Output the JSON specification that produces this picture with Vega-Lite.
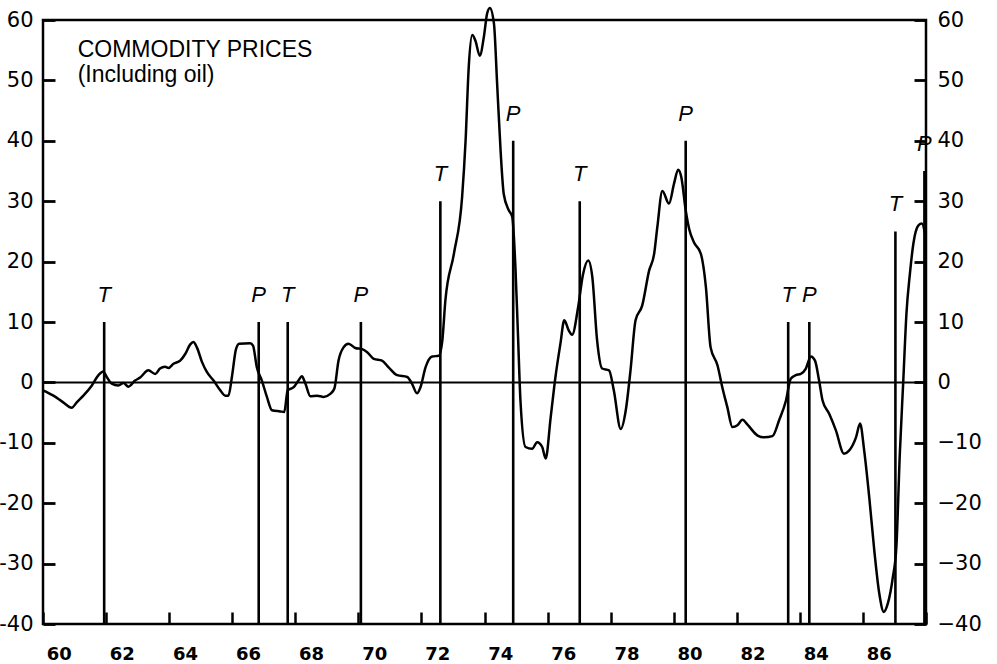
{
  "$schema": "https://vega.github.io/schema/vega-lite/v6.json",
  "autosize": "none",
  "width": 883,
  "height": 604,
  "padding": {"left": 43, "top": 20, "right": 71, "bottom": 40},
  "background": "white",
  "config": {
    "view": {"stroke": "black", "strokeWidth": 2.5},
    "axis": {"domain": false, "grid": false}
  },
  "datasets": {
    "curve": [
      {"x": 60.0, "y": -1.3}, {"x": 60.33, "y": -2.2}, {"x": 60.64, "y": -3.3}, {"x": 60.91, "y": -4.2},
      {"x": 61.07, "y": -3.3}, {"x": 61.28, "y": -2.2}, {"x": 61.55, "y": -0.5}, {"x": 61.76, "y": 1.2},
      {"x": 61.91, "y": 1.8}, {"x": 62.02, "y": 0.9}, {"x": 62.18, "y": -0.2}, {"x": 62.39, "y": -0.5},
      {"x": 62.55, "y": -0.1}, {"x": 62.71, "y": -0.7}, {"x": 62.92, "y": 0.3}, {"x": 63.08, "y": 0.8},
      {"x": 63.34, "y": 2.0}, {"x": 63.56, "y": 1.4}, {"x": 63.71, "y": 2.3}, {"x": 63.87, "y": 2.6},
      {"x": 63.98, "y": 2.4}, {"x": 64.14, "y": 3.1}, {"x": 64.35, "y": 3.6}, {"x": 64.51, "y": 4.7},
      {"x": 64.67, "y": 6.3}, {"x": 64.77, "y": 6.7}, {"x": 64.88, "y": 5.8}, {"x": 65.04, "y": 3.4},
      {"x": 65.2, "y": 1.7}, {"x": 65.41, "y": 0.3}, {"x": 65.62, "y": -1.3}, {"x": 65.78, "y": -2.2},
      {"x": 65.88, "y": -2.2}, {"x": 65.99, "y": 0.9}, {"x": 66.12, "y": 5.5}, {"x": 66.22, "y": 6.4},
      {"x": 66.57, "y": 6.5}, {"x": 66.66, "y": 6.1}, {"x": 66.78, "y": 2.5}, {"x": 66.94, "y": 0.3},
      {"x": 67.1, "y": -2.4}, {"x": 67.26, "y": -4.6}, {"x": 67.52, "y": -4.8}, {"x": 67.65, "y": -4.9},
      {"x": 67.76, "y": -1.3}, {"x": 67.95, "y": -0.8}, {"x": 68.1, "y": 0.3}, {"x": 68.21, "y": 1.0},
      {"x": 68.32, "y": -0.2}, {"x": 68.48, "y": -2.3}, {"x": 68.69, "y": -2.2}, {"x": 68.9, "y": -2.4},
      {"x": 69.11, "y": -1.9}, {"x": 69.24, "y": -1.0}, {"x": 69.37, "y": 3.6}, {"x": 69.53, "y": 5.8},
      {"x": 69.69, "y": 6.4}, {"x": 69.9, "y": 5.7}, {"x": 70.12, "y": 5.5}, {"x": 70.28, "y": 5.0},
      {"x": 70.49, "y": 3.9}, {"x": 70.75, "y": 3.6}, {"x": 70.96, "y": 2.5}, {"x": 71.23, "y": 1.2},
      {"x": 71.55, "y": 0.9}, {"x": 71.7, "y": -0.2}, {"x": 71.86, "y": -1.8}, {"x": 71.97, "y": -0.8},
      {"x": 72.13, "y": 2.5}, {"x": 72.34, "y": 4.3}, {"x": 72.55, "y": 4.4}, {"x": 72.66, "y": 6.8},
      {"x": 72.76, "y": 13.6}, {"x": 73.03, "y": 21.3}, {"x": 73.29, "y": 30.7}, {"x": 73.4, "y": 40.0},
      {"x": 73.5, "y": 52.2}, {"x": 73.61, "y": 57.5}, {"x": 73.71, "y": 56.6}, {"x": 73.85, "y": 54.1},
      {"x": 73.98, "y": 57.2}, {"x": 74.08, "y": 61.0}, {"x": 74.17, "y": 62.0}, {"x": 74.3, "y": 59.4},
      {"x": 74.4, "y": 49.5}, {"x": 74.51, "y": 38.4}, {"x": 74.61, "y": 31.2}, {"x": 74.77, "y": 28.5},
      {"x": 74.88, "y": 27.4}, {"x": 74.98, "y": 19.1}, {"x": 75.06, "y": 8.1}, {"x": 75.14, "y": -3.0},
      {"x": 75.3, "y": -10.7}, {"x": 75.51, "y": -11.0}, {"x": 75.67, "y": -9.9}, {"x": 75.83, "y": -10.7},
      {"x": 75.94, "y": -12.6}, {"x": 76.1, "y": -5.7}, {"x": 76.25, "y": 0.9}, {"x": 76.41, "y": 6.5},
      {"x": 76.53, "y": 10.3}, {"x": 76.67, "y": 8.6}, {"x": 76.78, "y": 7.9}, {"x": 76.97, "y": 12.5},
      {"x": 77.12, "y": 17.8}, {"x": 77.29, "y": 20.2}, {"x": 77.42, "y": 17.4}, {"x": 77.57, "y": 7.0},
      {"x": 77.73, "y": 2.3}, {"x": 77.95, "y": 2.0}, {"x": 78.1, "y": -1.3}, {"x": 78.32, "y": -7.7},
      {"x": 78.48, "y": -4.6}, {"x": 78.63, "y": 2.0}, {"x": 78.79, "y": 10.3}, {"x": 79.0, "y": 12.7},
      {"x": 79.22, "y": 18.5}, {"x": 79.38, "y": 21.3}, {"x": 79.48, "y": 25.7}, {"x": 79.64, "y": 31.7},
      {"x": 79.85, "y": 29.6}, {"x": 80.01, "y": 32.9}, {"x": 80.14, "y": 35.2}, {"x": 80.24, "y": 34.0},
      {"x": 80.38, "y": 28.5}, {"x": 80.49, "y": 25.4}, {"x": 80.64, "y": 23.2}, {"x": 80.86, "y": 21.3},
      {"x": 81.02, "y": 15.8}, {"x": 81.17, "y": 5.8}, {"x": 81.39, "y": 2.8}, {"x": 81.54, "y": -0.8},
      {"x": 81.7, "y": -4.1}, {"x": 81.86, "y": -7.4}, {"x": 82.02, "y": -7.1}, {"x": 82.18, "y": -6.2},
      {"x": 82.34, "y": -7.0}, {"x": 82.66, "y": -8.8}, {"x": 82.87, "y": -9.1}, {"x": 83.13, "y": -8.9},
      {"x": 83.34, "y": -6.3}, {"x": 83.56, "y": -3.0}, {"x": 83.71, "y": 0.6}, {"x": 83.87, "y": 1.2},
      {"x": 84.03, "y": 1.4}, {"x": 84.19, "y": 2.3}, {"x": 84.35, "y": 4.3}, {"x": 84.48, "y": 3.6},
      {"x": 84.61, "y": 0.3}, {"x": 84.72, "y": -3.0}, {"x": 84.93, "y": -5.2}, {"x": 85.14, "y": -7.9},
      {"x": 85.4, "y": -11.8}, {"x": 85.56, "y": -11.3}, {"x": 85.78, "y": -9.1}, {"x": 85.91, "y": -6.8},
      {"x": 86.04, "y": -11.3}, {"x": 86.2, "y": -19.0}, {"x": 86.36, "y": -27.8}, {"x": 86.52, "y": -35.0},
      {"x": 86.66, "y": -38.0}, {"x": 86.79, "y": -36.6}, {"x": 86.95, "y": -32.2}, {"x": 87.06, "y": -27.3},
      {"x": 87.17, "y": -11.8}, {"x": 87.28, "y": 0.3}, {"x": 87.38, "y": 11.4}, {"x": 87.49, "y": 18.0},
      {"x": 87.6, "y": 23.0}, {"x": 87.76, "y": 26.0}, {"x": 87.87, "y": 26.3}, {"x": 87.97, "y": 24.6}
    ],
    "turns": [
      {"x": 61.94, "top": 10, "label": "T"},
      {"x": 66.84, "top": 10, "label": "P"},
      {"x": 67.76, "top": 10, "label": "T"},
      {"x": 70.08, "top": 10, "label": "P"},
      {"x": 72.6, "top": 30, "label": "T"},
      {"x": 74.91, "top": 40, "label": "P"},
      {"x": 77.02, "top": 30, "label": "T"},
      {"x": 80.38, "top": 40, "label": "P"},
      {"x": 83.63, "top": 10, "label": "T"},
      {"x": 84.3, "top": 10, "label": "P"},
      {"x": 87.03, "top": 25, "label": "T"},
      {"x": 87.95, "top": 35, "label": "P"}
    ],
    "heading": [
      {"x": 61.1, "y": 53.8, "text": "COMMODITY PRICES"},
      {"x": 61.1, "y": 49.8, "text": "(Including oil)"}
    ],
    "zero": [{"y": 0}]
  },
  "resolve": {"axis": {"y": "independent"}},
  "layer": [
    {
      "data": {"name": "curve"},
      "mark": {"type": "line", "color": "black", "strokeWidth": 2.5, "interpolate": "monotone"},
      "encoding": {
        "x": {
          "field": "x", "type": "quantitative",
          "scale": {"domain": [60, 88], "nice": false, "zero": false},
          "axis": {
            "orient": "bottom", "title": null,
            "values": [60,61,62,63,64,65,66,67,68,69,70,71,72,73,74,75,76,77,78,79,80,81,82,83,84,85,86,87,88],
            "offset": -12, "tickSize": 12, "tickWidth": 2.5, "tickColor": "black",
            "labelExpr": "(datum.value % 2 == 0 && datum.value < 87) ? datum.label : ''",
            "labelOffset": 15.8, "labelPadding": 21,
            "labelFont": "DejaVu Sans", "labelFontWeight": "bold", "labelFontSize": 18, "labelColor": "black",
            "labelFlush": false, "labelOverlap": false, "labelBound": false
          }
        },
        "y": {
          "field": "y", "type": "quantitative",
          "scale": {"domain": [-40, 60], "nice": false, "zero": false},
          "axis": {
            "orient": "left", "title": null,
            "values": [-40,-30,-20,-10,0,10,20,30,40,50,60],
            "offset": -12, "tickSize": 12, "tickWidth": 2.8, "tickColor": "black",
            "labelExpr": "datum.value < 0 ? '-' + abs(datum.value) : '' + datum.value",
            "labelPadding": 10,
            "labelFont": "DejaVu Sans", "labelFontSize": 21, "labelColor": "black",
            "labelFlush": false, "labelOverlap": false, "labelBound": false
          }
        }
      }
    },
    {
      "data": {"name": "zero"},
      "mark": {"type": "rule", "color": "black", "strokeWidth": 2},
      "encoding": {
        "y": {
          "field": "y", "type": "quantitative",
          "axis": {
            "orient": "right", "title": null,
            "values": [-40,-30,-20,-10,0,10,20,30,40,50,60],
            "offset": -12, "tickSize": 12, "tickWidth": 2.8, "tickColor": "black",
            "labelExpr": "datum.value < 0 ? '\u2212' + abs(datum.value) : '' + datum.value",
            "labelPadding": 11,
            "labelFont": "DejaVu Sans", "labelFontSize": 21, "labelColor": "black",
            "labelFlush": false, "labelOverlap": false, "labelBound": false
          }
        }
      }
    },
    {
      "data": {"name": "turns"},
      "mark": {"type": "rule", "color": "black", "strokeWidth": 2.6},
      "encoding": {
        "x": {"field": "x", "type": "quantitative"},
        "y": {"field": "top", "type": "quantitative", "axis": null},
        "y2": {"datum": -40}
      }
    },
    {
      "data": {"name": "turns"},
      "mark": {"type": "text", "font": "Liberation Sans", "fontStyle": "italic", "fontSize": 22, "color": "black", "baseline": "alphabetic", "align": "center", "dy": -20},
      "encoding": {
        "x": {"field": "x", "type": "quantitative"},
        "y": {"field": "top", "type": "quantitative", "axis": null},
        "text": {"field": "label"}
      }
    },
    {
      "data": {"name": "heading"},
      "mark": {"type": "text", "font": "Liberation Sans", "fontSize": 23, "color": "black", "baseline": "alphabetic", "align": "left"},
      "encoding": {
        "x": {"field": "x", "type": "quantitative"},
        "y": {"field": "y", "type": "quantitative", "axis": null},
        "text": {"field": "text"}
      }
    }
  ]
}
